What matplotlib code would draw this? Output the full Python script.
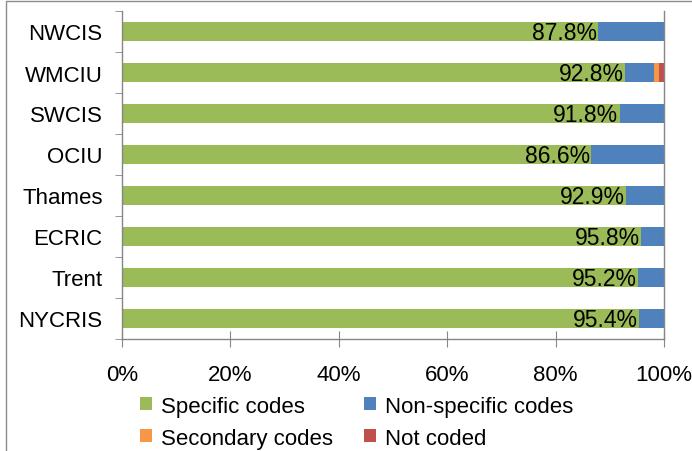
import matplotlib.pyplot as plt
import matplotlib.patches as mpatches
import numpy as np

plt.rcParams['font.family'] = ['Liberation Sans', 'DejaVu Sans']

registries = ['NWCIS', 'WMCIU', 'SWCIS', 'OCIU', 'Thames', 'ECRIC', 'Trent', 'NYCRIS']
specific = [87.8, 92.8, 91.8, 86.6, 92.9, 95.8, 95.2, 95.4]
non_specific = [12.2, 5.35, 8.2, 13.4, 7.1, 4.2, 4.8, 4.6]
secondary = [0.0, 0.9, 0.0, 0.0, 0.0, 0.0, 0.0, 0.0]
not_coded = [0.0, 0.95, 0.0, 0.0, 0.0, 0.0, 0.0, 0.0]

series = [
    ('Specific codes', specific, '#9BBB59'),
    ('Non-specific codes', non_specific, '#4F81BD'),
    ('Secondary codes', secondary, '#F79646'),
    ('Not coded', not_coded, '#C0504D'),
]

fig = plt.figure(figsize=(6.92, 4.52), dpi=100)
ax = fig.add_axes([122 / 692, 112 / 452, 542 / 692, 328 / 452])

y = np.arange(len(registries))
left = np.zeros(len(registries))
handles = {}
for name, vals, col in series:
    vals = np.array(vals)
    b = ax.barh(y, vals, left=left, height=0.47, color=col, label=name)
    handles[name] = b
    left += vals

# percentage labels at the inside end of the green segment
for i, v in enumerate(specific):
    ax.text(v - 0.2, i + 0.03, '%.1f%%' % v, ha='right', va='center', fontsize=16.5, color='black')

ax.set_xlim(0, 100)
ax.set_ylim(len(registries) - 0.5, -0.5)
ax.set_xticks(np.arange(0, 101, 20))
ax.set_xticklabels(['%d%%' % t for t in range(0, 101, 20)], fontsize=16)
ax.set_yticks(y)
ax.set_yticklabels(registries, fontsize=16)
ax.set_yticks(np.arange(-0.5, len(registries), 1), minor=True)

ax.tick_params(axis='y', which='major', length=0, pad=14)
ax.tick_params(axis='y', which='minor', length=5, color='#868686', direction='out')
ax.tick_params(axis='x', which='major', length=12, color='#868686', direction='inout', pad=12)

for s in ['left', 'bottom', 'right']:
    ax.spines[s].set_color('#868686')
    ax.spines[s].set_linewidth(1.0)
ax.spines['top'].set_visible(False)

order = ['Specific codes', 'Secondary codes', 'Non-specific codes', 'Not coded']
leg = fig.legend([handles[n] for n in order], order, loc='center', ncol=2,
                 bbox_to_anchor=(0.515, 0.064), frameon=False, fontsize=16,
                 handlelength=0.55, handleheight=0.55, handletextpad=0.4,
                 columnspacing=1.4, labelspacing=0.5)

# chart border (cut off at right and bottom)
fig.patches.append(mpatches.Rectangle((6 / 692, -0.1), 1.2, 1.1 - 2 / 452,
                                      transform=fig.transFigure, fill=False,
                                      edgecolor='#8c8c8c', linewidth=1.0))

fig.savefig('out.png', dpi=100)
